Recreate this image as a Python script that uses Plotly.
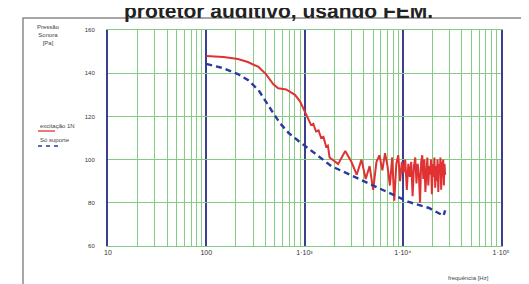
import plotly.graph_objects as go

# Data (frequency in Hz, level)
red_freq = [100, 150, 210, 265, 340, 405, 480, 540, 650, 800, 900, 1035, 1100, 1165, 1230,
            1310, 1390, 1475, 1560, 1660, 1730,
            1800, 2200, 2600, 3000, 3400, 3800, 4200, 4600, 5000, 5400, 5800, 6200, 6600,
            7000, 7400, 7800, 8200, 8600, 9000, 9400, 9800, 10200, 10600, 11000, 11400,
            11800, 12200, 12600, 13000, 13400, 13800, 14200, 14600, 15000, 15400, 15800,
            16200, 16600, 17000, 17400, 17800, 18200, 18600, 19000, 19400, 19800, 20200,
            20600, 21000, 21400, 21800, 22200, 22600, 23000, 23400, 23800, 24200, 24600,
            25000, 25400, 25800, 26200, 26600, 27000]
red_vals = [148, 147.5, 146.6, 145.2, 142.9, 139.6, 135, 133, 132.5, 130, 127, 120.5, 118.5,
            116, 116.5, 113, 113.5, 110, 110.5, 106, 106.5,
            101, 98, 104, 99, 93, 100, 91, 97, 86, 99, 102, 95, 103,
            97, 88, 101, 81, 98, 102, 90, 99, 94, 100, 86, 98,
            92, 99, 83, 97, 101, 89, 98, 93, 80, 99, 102,
            91, 100, 85, 98, 101, 88, 97, 93, 100, 84, 98,
            92, 101, 87, 97, 90, 100, 85, 98, 94, 101, 86,
            99, 92, 100, 88, 98, 93]

blue_freq = [100, 148, 210, 265, 340, 410, 480, 560, 690, 870, 1090, 1380, 1870, 2790,
             4480, 7170, 11500, 18500, 24600, 26000, 27000]
blue_vals = [144.3, 142.4, 139.6, 136.9, 132.2, 126.2, 121.6, 117, 112.3, 108.6, 105.4,
             101.7, 97, 93.3, 89.2, 84.5, 80.4, 77.6, 74.8, 74, 76.5]

x_tickvals = [10, 100, 1000, 10000, 100000]
x_ticktext = ["10", "100", "1·10³", "1·10⁴", "1·10⁵"]
y_tickvals = [60, 80, 100, 120, 140, 160]
y_ticktext = ["60", "80", "100", "120", "140", "160"]

series_names = ["excitação 1N", "Só suporte"]

NAVY = "#3a3f8f"
GREEN = "#84cc84"
RED = "#e03232"
BLUE = "#2c3a9c"

fig = go.Figure()
fig.add_trace(go.Scatter(x=red_freq, y=red_vals, mode="lines", name=series_names[0],
                         line=dict(color=RED, width=2)))
fig.add_trace(go.Scatter(x=blue_freq, y=blue_vals, mode="lines", name=series_names[1],
                         line=dict(color=BLUE, width=2.4, dash="6px,4px")))

fig.update_layout(
    width=529, height=284,
    margin=dict(l=100, r=36, t=22, b=46),
    paper_bgcolor="white", plot_bgcolor="white",
    showlegend=False,
    font=dict(family="Liberation Sans, Arial", size=7, color="#333"),
)
fig.update_xaxes(
    type="log", range=[1, 5],
    tickmode="array", tickvals=x_tickvals, ticktext=x_ticktext,
    showgrid=True, gridcolor=NAVY, gridwidth=1.6,
    minor=dict(dtick="D1", showgrid=True, gridcolor=GREEN, gridwidth=1, ticks=""),
    showline=True, linecolor=GREEN, linewidth=1, mirror=True,
    ticks="", tickfont=dict(size=7, color="#333"), zeroline=False,
)
fig.update_yaxes(
    range=[60, 160],
    tickmode="array", tickvals=y_tickvals, ticktext=y_ticktext,
    showgrid=True, gridcolor=GREEN, gridwidth=1,
    showline=True, linecolor=NAVY, linewidth=2, mirror=True,
    ticks="", ticklabelstandoff=10, tickfont=dict(size=6, color="#333"), zeroline=False,
)

def px(x):
    return (x - 100) / 393.0

def py(y):
    return (238 - y) / 216.0

# outer frame
fig.add_shape(type="rect", xref="paper", yref="paper", x0=px(15), x1=px(521),
              y0=py(290), y1=py(10), line=dict(color="#8a8a8a", width=1.5), layer="below")

# title (cut at top like the scan)
fig.add_annotation(text="<b>protetor auditivo, usando FEM.</b>", xref="paper", yref="paper",
                   x=px(270), y=py(2), xanchor="center", yanchor="middle", showarrow=False,
                   font=dict(size=21, color="#222", family="Liberation Sans, Arial"))

# y title
fig.add_annotation(text="Pressão<br>Sonora<br>[Pa]", xref="paper", yref="paper",
                   x=px(40), y=py(27), xanchor="center", yanchor="middle", showarrow=False,
                   font=dict(size=6, color="#444"), align="center")
# x title
fig.add_annotation(text="frequência [Hz]", xref="paper", yref="paper",
                   x=px(460), y=py(270), xanchor="center", yanchor="middle", showarrow=False,
                   font=dict(size=6, color="#444"))

# legend
fig.add_annotation(text=series_names[0], xref="paper", yref="paper",
                   x=px(30), y=py(118), xanchor="left", yanchor="middle", showarrow=False,
                   font=dict(size=6, color="#444"))
fig.add_shape(type="line", xref="paper", yref="paper", x0=px(30), x1=px(47),
              y0=py(123), y1=py(123), line=dict(color=RED, width=1.3))
fig.add_annotation(text=series_names[1], xref="paper", yref="paper",
                   x=px(30), y=py(132), xanchor="left", yanchor="middle", showarrow=False,
                   font=dict(size=6, color="#444"))
fig.add_shape(type="line", xref="paper", yref="paper", x0=px(30), x1=px(52),
              y0=py(138), y1=py(138), line=dict(color=BLUE, width=1.5, dash="4px,4px"))

fig.write_html("out.html")
